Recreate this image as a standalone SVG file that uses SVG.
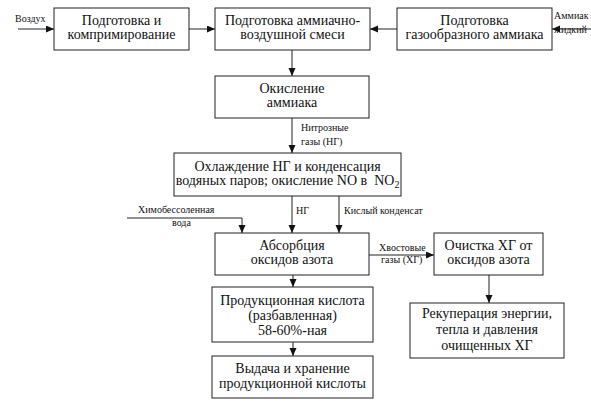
<svg xmlns="http://www.w3.org/2000/svg" width="591" height="403" viewBox="0 0 591 403">
<style>
.box{fill:#fff;stroke:#222;stroke-width:1}
.t{font-family:'Liberation Serif','DejaVu Serif',serif;font-size:14px;fill:#111;text-anchor:middle}
.s{font-family:'Liberation Serif','DejaVu Serif',serif;font-size:10px;fill:#111}
.c{fill:none;stroke:#222;stroke-width:1;marker-end:url(#ah)}
</style>
<defs>
<marker id="ah" markerUnits="userSpaceOnUse" markerWidth="8" markerHeight="8" refX="8" refY="3.5" orient="auto">
<path d="M0,0 L8,3.5 L0,7 z" fill="#111"/>
</marker>
</defs>
<rect width="591" height="403" fill="#fff"/>
<g id="connectors">
<line class="c" x1="18" y1="29" x2="54" y2="29"/>
<line class="c" x1="189" y1="29" x2="215" y2="29"/>
<line class="c" x1="397" y1="29" x2="370" y2="29"/>
<line class="c" x1="591" y1="29" x2="552" y2="29"/>
<line class="c" x1="292" y1="50" x2="292" y2="76"/>
<line class="c" x1="292" y1="118" x2="292" y2="153"/>
<line class="c" x1="292" y1="196" x2="292" y2="233"/>
<line class="c" x1="339" y1="196" x2="339" y2="233"/>
<polyline class="c" points="127,218 242,218 242,233"/>
<line class="c" x1="369" y1="255" x2="434" y2="255"/>
<line class="c" x1="489" y1="275" x2="489" y2="303"/>
<line class="c" x1="293" y1="275" x2="293" y2="287"/>
<line class="c" x1="293" y1="342" x2="293" y2="356"/>
<text class="s" x="15" y="22">Воздух</text>
<text class="s" x="554" y="19">Аммиак</text>
<text class="s" x="554" y="33">жидкий</text>
<text class="s" x="301" y="131">Нитрозные</text>
<text class="s" x="301" y="145">газы (НГ)</text>
<text class="s" x="296" y="214">НГ</text>
<text class="s" x="344" y="214">Кислый конденсат</text>
<text class="s" x="138" y="213">Химобессоленная</text>
<text class="s" x="172" y="226">вода</text>
<text class="s" x="379" y="251">Хвостовые</text>
<text class="s" x="381" y="263">газы (ХГ)</text>
</g>
<g id="n1"><rect class="box" x="54" y="8" width="135" height="42"/>
<text class="t" x="121.5" y="25">Подготовка и</text><text class="t" x="121.5" y="39">компримирование</text></g>
<g id="n2"><rect class="box" x="215" y="8" width="155" height="42"/>
<text class="t" x="292.5" y="25">Подготовка аммиачно-</text><text class="t" x="292.5" y="39">воздушной смеси</text></g>
<g id="n3"><rect class="box" x="397" y="8" width="155" height="42"/>
<text class="t" x="474.5" y="25">Подготовка</text><text class="t" x="474.5" y="39">газообразного аммиака</text></g>
<g id="n4"><rect class="box" x="215" y="76" width="154" height="42"/>
<text class="t" x="292" y="93">Окисление</text><text class="t" x="292" y="107">аммиака</text></g>
<g id="n5"><rect class="box" x="174" y="153" width="227" height="43"/>
<text class="t" x="287.5" y="171">Охлаждение НГ и конденсация</text><text class="t" x="287.5" y="185" xml:space="preserve">водяных паров; окисление NO в  NO<tspan font-size="10" dy="3">2</tspan></text></g>
<g id="n6"><rect class="box" x="215" y="233" width="154" height="42"/>
<text class="t" x="292" y="250">Абсорбция</text><text class="t" x="292" y="264">оксидов азота</text></g>
<g id="n7"><rect class="box" x="434" y="233" width="109" height="42"/>
<text class="t" x="488.5" y="250">Очистка ХГ от</text><text class="t" x="488.5" y="264">оксидов азота</text></g>
<g id="n8"><rect class="box" x="410" y="303" width="154" height="55"/>
<text class="t" x="487" y="318">Рекуперация энергии,</text><text class="t" x="487" y="334">тепла и давления</text><text class="t" x="487" y="350">очищенных ХГ</text></g>
<g id="n9"><rect class="box" x="212" y="287" width="161" height="55"/>
<text class="t" x="292.5" y="305">Продукционная кислота</text><text class="t" x="292.5" y="320">(разбавленная)</text><text class="t" x="292.5" y="335">58-60%-ная</text></g>
<g id="n10"><rect class="box" x="212" y="356" width="161" height="42"/>
<text class="t" x="292.5" y="373">Выдача и хранение</text><text class="t" x="292.5" y="388">продукционной кислоты</text></g>
</svg>
